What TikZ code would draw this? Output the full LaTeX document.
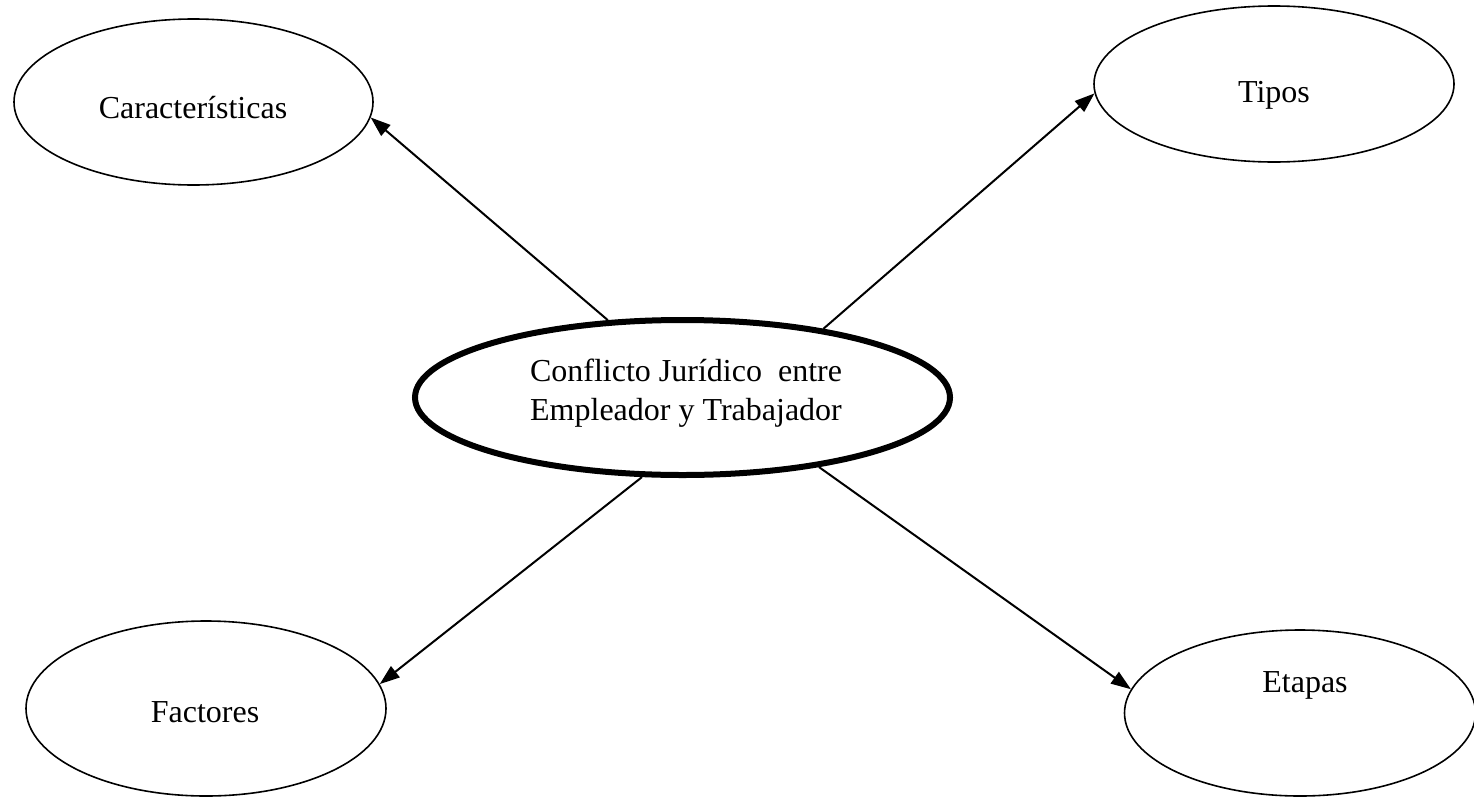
\documentclass[tikz,border=0pt]{standalone}
\usepackage{fontspec}
\setmainfont{Liberation Serif}
\usetikzlibrary{shapes.geometric,arrows.meta}

\tikzset{
  bubble/.style={ellipse, draw=black, line width=1.6pt, inner sep=0pt},
  hub/.style={ellipse, draw=black, line width=6pt, inner sep=0pt},
  lbl/.style={inner sep=0pt, anchor=base, font=\fontsize{32}{39}\selectfont},
  link/.style={line width=2pt, -{Triangle[length=20pt,width=14pt]}}
}

\begin{document}
\begin{tikzpicture}[x=1pt, y=-1pt]
  \useasboundingbox (0,0) rectangle (1474,798);

  % central concept
  \node[hub, minimum width=535pt, minimum height=155pt] (c) at (682.5,397.5) {};
  \node[lbl, anchor=center, align=center] (c-t) at (686,393)
    {Conflicto Jurídico\ \ entre\\Empleador y Trabajador};

  % surrounding concepts
  \node[bubble, minimum width=359pt, minimum height=166pt] (ch) at (193.5,102) {};
  \node[lbl] (ch-t) at (193,118) {Características};

  \node[bubble, minimum width=360pt, minimum height=156pt] (ti) at (1274,84) {};
  \node[lbl] (ti-t) at (1274,102) {Tipos};

  \node[bubble, minimum width=360pt, minimum height=175pt] (fa) at (206,708.5) {};
  \node[lbl] (fa-t) at (205,722) {Factores};

  \node[bubble, minimum width=351pt, minimum height=166pt] (et) at (1300,713) {};
  \node[lbl] (et-t) at (1305,692) {Etapas};

  % connectors
  \draw[link] (c.134.3) -- (ch.-5);
  \draw[link] (c.26) -- (ti.183.8);
  \draw[link] (c.243.9) -- (fa.8.9);
  \draw[link] (c.333.7) -- (et.172.5);
\end{tikzpicture}
\end{document}
